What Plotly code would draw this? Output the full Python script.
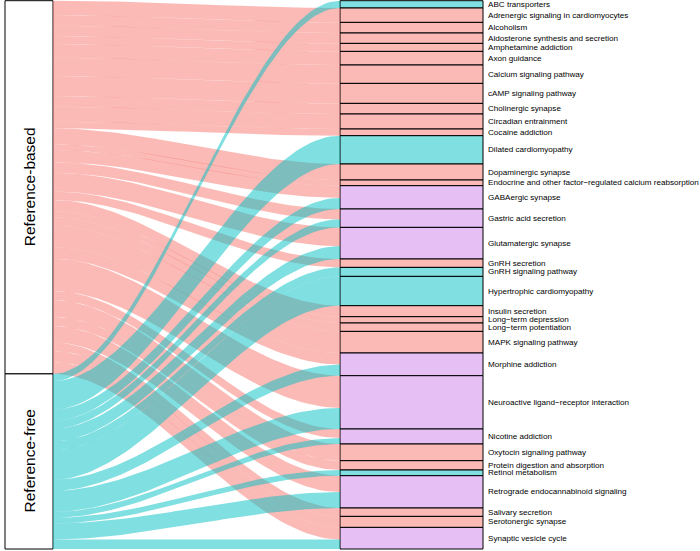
import numpy as np
import plotly.graph_objects as go

# ---------------- data ----------------
sources = ["Reference-based", "Reference-free"]

pathways = [
    "ABC transporters",
    "Adrenergic signaling in cardiomyocytes",
    "Alcoholism",
    "Aldosterone synthesis and secretion",
    "Amphetamine addiction",
    "Axon guidance",
    "Calcium signaling pathway",
    "cAMP signaling pathway",
    "Cholinergic synapse",
    "Circadian entrainment",
    "Cocaine addiction",
    "Dilated cardiomyopathy",
    "Dopaminergic synapse",
    "Endocrine and other factor\u2212regulated calcium reabsorption",
    "GABAergic synapse",
    "Gastric acid secretion",
    "Glutamatergic synapse",
    "GnRH secretion",
    "GnRH signaling pathway",
    "Hypertrophic cardiomyopathy",
    "Insulin secretion",
    "Long\u2212term depression",
    "Long\u2212term potentiation",
    "MAPK signaling pathway",
    "Morphine addiction",
    "Neuroactive ligand\u2212receptor interaction",
    "Nicotine addiction",
    "Oxytocin signaling pathway",
    "Protein digestion and absorption",
    "Retinol metabolism",
    "Retrograde endocannabinoid signaling",
    "Salivary secretion",
    "Serotonergic synapse",
    "Synaptic vesicle cycle",
]

# flow size from each source into each pathway
value_based = [0.0, 14.4, 10.6, 10.4, 8.0, 13.6, 18.4, 20.0, 10.6, 15.0, 6.7,
               0.0, 16.0, 5.7, 12.2, 10.4, 18.8, 8.4, 0.0, 0.0, 11.0, 6.3,
               8.4, 21.6, 11.6, 32.2, 9.1, 16.7, 9.3, 0.0, 16.4, 8.4, 11.0, 12.0]
value_free = [7.3, 0.0, 0.0, 0.0, 0.0, 0.0, 0.0, 0.0, 0.0, 0.0, 0.0,
              28.3, 0.0, 0.0, 11.1, 8.0, 12.8, 0.0, 9.0, 29.3, 0.0, 0.0,
              0.0, 0.0, 11.1, 21.1, 5.9, 0.0, 0.0, 5.7, 15.9, 0.0, 0.0, 9.6]

# ---------------- styling / layout ----------------
W, H = 700, 551
LEFT_X = (5, 53)        # left stratum column (px-like x units)
RIGHT_X = (340, 483)    # right stratum column
LABEL_GAP = 3
LABEL_SIZE = 8.1
PAD_TOP = 0.7

RIB_BASED = "rgba(248,118,109,0.5)"
RIB_FREE = "rgba(0,191,196,0.5)"
FILL_BASED = "#FBBAB6"
FILL_FREE = "#80DFE1"
FILL_BOTH = "#E6BFF4"
FONT = "Liberation Sans, Arial, sans-serif"

n = len(pathways)
vb = np.array(value_based)
vf = np.array(value_free)
tot_path = vb + vf

# right stratum positions (stack in order)
r_top = np.concatenate([[0], np.cumsum(tot_path)[:-1]])
# left strata
src_tot = np.array([vb.sum(), vf.sum()])
l_top = np.array([0, src_tot[0]])

# lode positions on the left: within each source ordered by pathway
left_b_top = np.concatenate([[0], np.cumsum(vb)[:-1]]) + l_top[0]
left_f_top = np.concatenate([[0], np.cumsum(vf)[:-1]]) + l_top[1]
# lode positions on the right: within each pathway, based first then free
right_b_top = r_top
right_f_top = r_top + vb

fig = go.Figure()

t = np.linspace(0, 1, 60)
s = t * t * (3 - 2 * t)
xs = LEFT_X[1] + t * (RIGHT_X[0] - LEFT_X[1])


def ribbon(y0a, y0b, y1a, y1b, color):
    top = y0a + (y1a - y0a) * s
    bot = y0b + (y1b - y0b) * s
    x = np.concatenate([xs, xs[::-1], [xs[0]]])
    y = np.concatenate([top, bot[::-1], [top[0]]])
    fig.add_trace(go.Scatter(x=x, y=y, mode="lines", fill="toself",
                             fillcolor=color, line=dict(width=0),
                             hoverinfo="skip", showlegend=False))


for i in range(n):
    if vb[i] > 0:
        ribbon(left_b_top[i], left_b_top[i] + vb[i],
               right_b_top[i], right_b_top[i] + vb[i], RIB_BASED)
for i in range(n):
    if vf[i] > 0:
        ribbon(left_f_top[i], left_f_top[i] + vf[i],
               right_f_top[i], right_f_top[i] + vf[i], RIB_FREE)

# right strata as stacked bars
fills = []
for i in range(n):
    if vb[i] > 0 and vf[i] > 0:
        fills.append(FILL_BOTH)
    elif vb[i] > 0:
        fills.append(FILL_BASED)
    else:
        fills.append(FILL_FREE)

fig.add_trace(go.Bar(x=[(RIGHT_X[0] + RIGHT_X[1]) / 2] * n, y=tot_path,
                     base=r_top, width=RIGHT_X[1] - RIGHT_X[0],
                     marker=dict(color=fills, line=dict(color="black", width=1)),
                     hoverinfo="skip", showlegend=False))
fig.add_trace(go.Bar(x=[(LEFT_X[0] + LEFT_X[1]) / 2] * 2, y=src_tot,
                     base=l_top, width=LEFT_X[1] - LEFT_X[0],
                     marker=dict(color="white", line=dict(color="black", width=1)),
                     hoverinfo="skip", showlegend=False))

annotations = []
for i in range(n):
    annotations.append(dict(x=RIGHT_X[1] + LABEL_GAP, y=r_top[i] + tot_path[i] / 2,
                            text=pathways[i], showarrow=False, xanchor="left",
                            yanchor="middle",
                            font=dict(size=LABEL_SIZE, color="black", family=FONT)))
for j in range(2):
    annotations.append(dict(x=(LEFT_X[0] + LEFT_X[1]) / 2, y=l_top[j] + src_tot[j] / 2,
                            text=sources[j], showarrow=False, textangle=-90,
                            xanchor="center", yanchor="middle",
                            font=dict(size=15.5, color="black", family=FONT)))

fig.update_layout(
    width=W, height=H, margin=dict(l=0, r=0, t=0, b=0),
    paper_bgcolor="white", plot_bgcolor="white", barmode="overlay",
    xaxis=dict(range=[0, W], visible=False, fixedrange=True),
    yaxis=dict(range=[H - PAD_TOP, -PAD_TOP], visible=False, fixedrange=True),
    annotations=annotations, showlegend=False,
)

fig.write_html("out.html",
               config={"displayModeBar": False, "staticPlot": True},
               post_script="document.body.style.margin='0px';"
                           "document.body.style.overflow='hidden';")
